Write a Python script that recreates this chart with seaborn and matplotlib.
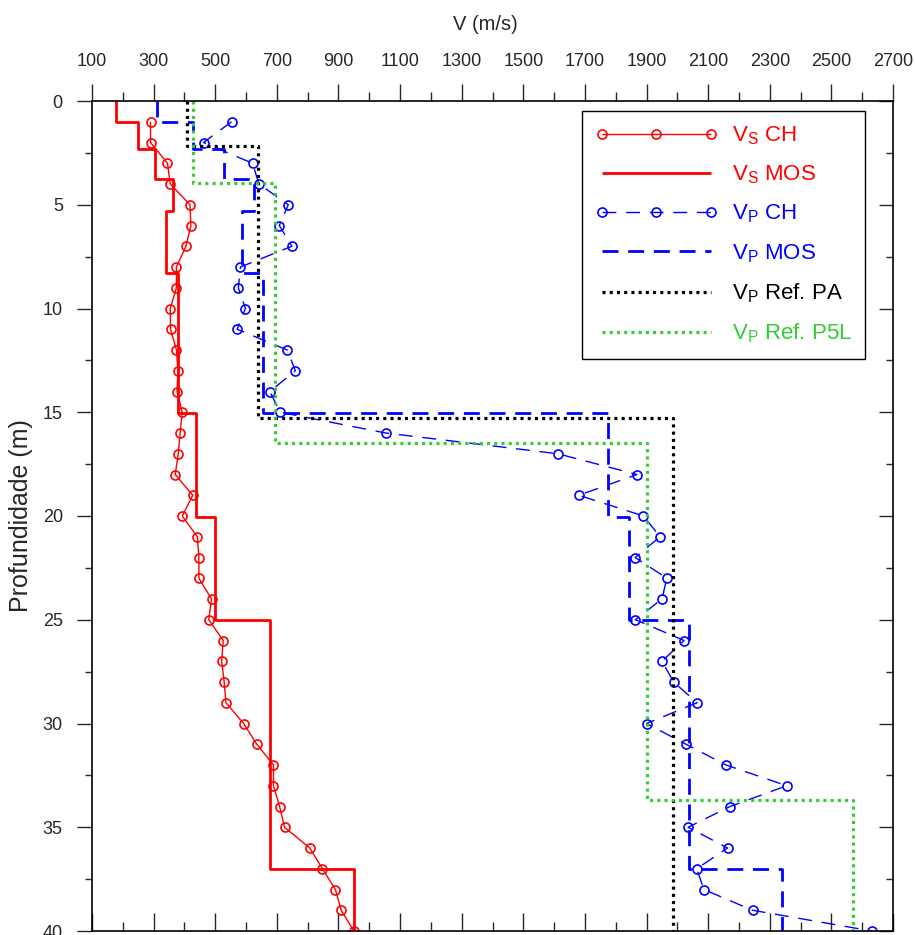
import numpy as np
import pandas as pd
import matplotlib
matplotlib.use("Agg")
import matplotlib.pyplot as plt
import seaborn as sns
from matplotlib.ticker import MultipleLocator, FixedLocator

# ---------------- data ----------------
# Cross-hole (CH) measurements at each metre of depth
depth_ch = list(range(1, 41))
vs_ch = [290, 290, 345, 354, 418, 421, 405, 374, 374, 354,
         355, 374, 379, 376, 393, 386, 380, 370, 427, 393,
         442, 447, 447, 488, 479, 526, 521, 529, 535, 592,
         635, 689, 689, 709, 725, 807, 848, 890, 909, 950]
vp_ch = [553, 462, 621, 642, 737, 708, 749, 582, 575, 598,
         571, 734, 760, 677, 711, 1053, 1612, 1869, 1680, 1890,
         1944, 1863, 1966, 1950, 1864, 2022, 1950, 1988, 2064, 1900,
         2028, 2158, 2355, 2171, 2035, 2163, 2063, 2086, 2244, 2631]

# Layered models (layer boundaries in m, velocity per layer in m/s)
mos_bounds = [0, 1.03, 2.3, 3.75, 5.3, 8.3, 15.05, 20.05, 25.0, 37.0, 40]
vs_mos = [178, 249, 303, 362, 341, 379, 438, 500, 679, 950]
vp_mos = [310, 428, 529, 627, 587, 655, 1776, 1842, 2038, 2339]

pa_bounds = [0, 2.17, 15.3, 40]
vp_pa = [409, 640, 1985]

p5l_bounds = [0, 3.94, 16.5, 33.7, 40]
vp_p5l = [428, 693, 1903, 2570]

x_ticks = list(range(100, 2701, 200))
y_ticks = [0, 5, 10, 15, 20, 25, 30, 35, 40]

labels = [r"$\mathregular{V_S}$ CH", r"$\mathregular{V_S}$ MOS",
          r"$\mathregular{V_P}$ CH", r"$\mathregular{V_P}$ MOS",
          r"$\mathregular{V_P}$ Ref. PA", r"$\mathregular{V_P}$ Ref. P5L"]


def step_frame(bounds, vel):
    b = np.asarray(bounds, float)
    v = np.asarray(vel, float)
    return pd.DataFrame({"v": np.repeat(v, 2),
                         "d": np.column_stack([b[:-1], b[1:]]).ravel()})


# ---------------- style ----------------
sns.set_style("ticks")
plt.rcParams["font.family"] = ["Liberation Sans", "DejaVu Sans"]
plt.rcParams["mathtext.fontset"] = "custom"
plt.rcParams["mathtext.rm"] = "Liberation Sans"
plt.rcParams["lines.scale_dashes"] = False

RED = "#FF0000"
BLUE = "#0000FF"
GREEN = "#33CC33"

fig = plt.figure(figsize=(9.15, 9.35), dpi=100)
ax = fig.add_axes([92 / 915, 1 - 931 / 935, (893 - 92) / 915, (931 - 101) / 935])

# Vs CH
sns.lineplot(data=pd.DataFrame({"v": vs_ch, "d": depth_ch}), x="v", y="d",
             sort=False, estimator=None, ax=ax, color=RED, lw=1.0,
             marker="o", markersize=6.5, markerfacecolor="none",
             markeredgecolor=RED, markeredgewidth=1.2, label=labels[0])
# Vs MOS
sns.lineplot(data=step_frame(mos_bounds, vs_mos), x="v", y="d",
             sort=False, estimator=None, ax=ax, color=RED, lw=2.0,
             label=labels[1])
# Vp CH
sns.lineplot(data=pd.DataFrame({"v": vp_ch, "d": depth_ch}), x="v", y="d",
             sort=False, estimator=None, ax=ax, color=BLUE, lw=1.0,
             marker="o", markersize=6.5, markerfacecolor="none",
             markeredgecolor=BLUE, markeredgewidth=1.2, label=labels[2])
ax.lines[-1].set_dashes([10, 7])
# Vp MOS
sns.lineplot(data=step_frame(mos_bounds, vp_mos), x="v", y="d",
             sort=False, estimator=None, ax=ax, color=BLUE, lw=2.0,
             label=labels[3])
ax.lines[-1].set_dashes([11.5, 7])
# Vp Ref PA
sns.lineplot(data=step_frame(pa_bounds, vp_pa), x="v", y="d",
             sort=False, estimator=None, ax=ax, color="black", lw=2.3,
             label=labels[4])
ax.lines[-1].set_dashes([2.2, 3.0])
# Vp Ref P5L
sns.lineplot(data=step_frame(p5l_bounds, vp_p5l), x="v", y="d",
             sort=False, estimator=None, ax=ax, color=GREEN, lw=2.3,
             label=labels[5])
ax.lines[-1].set_dashes([2.2, 3.0])

for ln in ax.lines:
    ln.set_solid_capstyle("butt")
    ln.set_dash_capstyle("butt")

# ---------------- axes ----------------
ax.set_xlim(100, 2700)
ax.set_ylim(40, 0)

ax.xaxis.set_major_locator(FixedLocator(x_ticks))
ax.xaxis.set_minor_locator(MultipleLocator(100))
ax.yaxis.set_major_locator(FixedLocator(y_ticks))
ax.yaxis.set_minor_locator(MultipleLocator(2.5))

ax.tick_params(axis="x", which="both", top=True, bottom=True,
               labeltop=True, labelbottom=False, length=0,
               labelsize=13, pad=22.5)
ax.tick_params(axis="y", which="both", left=True, right=True,
               labelleft=True, labelright=False, length=0,
               labelsize=13, pad=21)

# marker codes: 0 TICKLEFT, 1 TICKRIGHT, 2 TICKUP, 3 TICKDOWN
for t in ax.xaxis.get_major_ticks():
    t.tick1line.set_marker(2)        # bottom, inward
    t.tick1line.set_markersize(13)
    t.tick2line.set_marker(2)        # top, outward
    t.tick2line.set_markersize(12)
for t in ax.xaxis.get_minor_ticks():
    t.tick1line.set_marker(2)
    t.tick1line.set_markersize(6.5)
    t.tick2line.set_marker(2)
    t.tick2line.set_markersize(6.5)
for t in ax.yaxis.get_major_ticks():
    t.tick1line.set_marker(0)        # left, outward
    t.tick1line.set_markersize(11)
    t.tick2line.set_marker(0)        # right, inward
    t.tick2line.set_markersize(10)
for t in ax.yaxis.get_minor_ticks():
    t.tick1line.set_marker(0)
    t.tick1line.set_markersize(5)
    t.tick2line.set_marker(0)
    t.tick2line.set_markersize(5)
for t in ax.xaxis.get_major_ticks() + ax.xaxis.get_minor_ticks() + \
        ax.yaxis.get_major_ticks() + ax.yaxis.get_minor_ticks():
    t.tick1line.set_markeredgewidth(1.0)
    t.tick2line.set_markeredgewidth(1.0)

ax.set_xlabel("V (m/s)", fontsize=14.5)
ax.xaxis.set_label_coords(0.491, 1 + (101 - 25) / 830)
ax.xaxis.label.set_va("center")
ax.set_ylabel("Profundidade (m)", fontsize=18)
ax.yaxis.set_label_coords((21 - 92) / 801, 0.5)
ax.yaxis.label.set_va("center")

for s in ax.spines.values():
    s.set_linewidth(1.2)
    s.set_color("black")

handles, labs = ax.get_legend_handles_labels()
leg = ax.legend(handles, labs, loc="upper left",
                bbox_to_anchor=((582 - 92) / 801, 1 - (111 - 101) / 830),
                frameon=True, fancybox=False, framealpha=1,
                edgecolor="black", fontsize=16, numpoints=3,
                handlelength=5.5, handletextpad=0.65, labelspacing=0.75,
                borderpad=0.6, borderaxespad=0, labelcolor="linecolor")
leg.get_frame().set_linewidth(1.0)

fig.savefig("out.png", dpi=100)
